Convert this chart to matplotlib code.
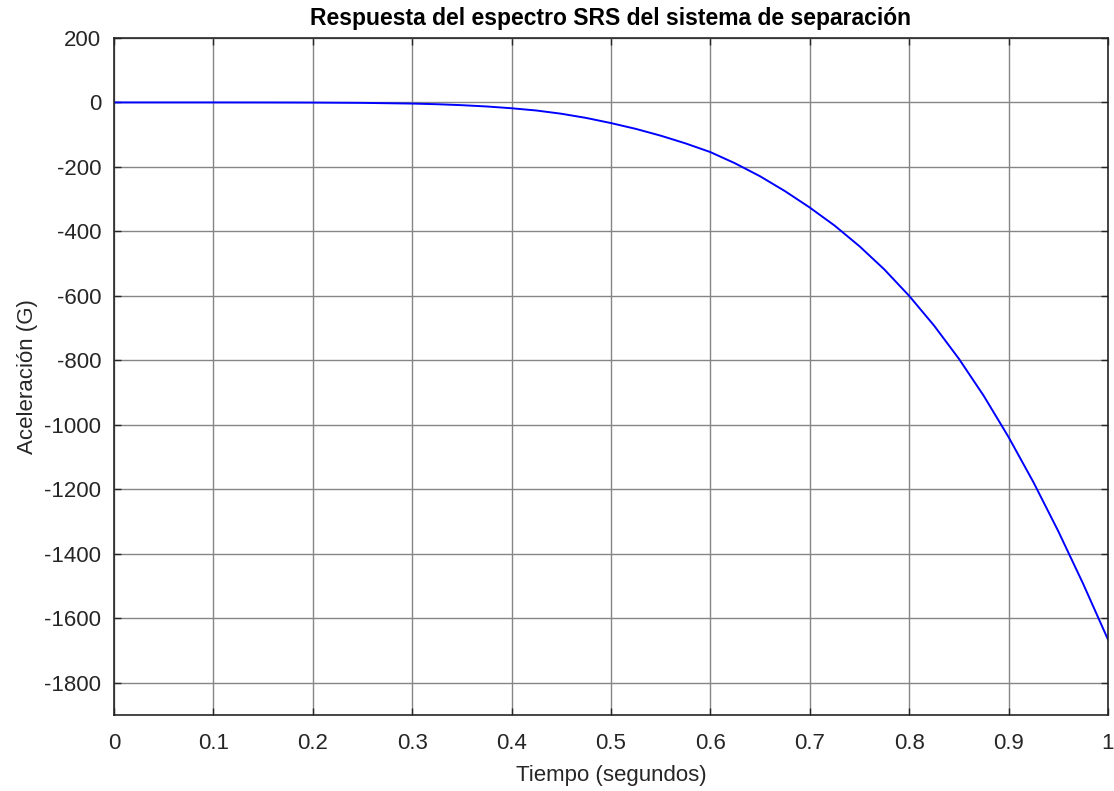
#!/usr/bin/env python3

import matplotlib as mpl
mpl.use("Agg")
import matplotlib.pyplot as plt

# tiempo (s) y aceleracion (G)
tiempo = [0.0, 0.05, 0.1, 0.15, 0.2, 0.25, 0.3, 0.325, 0.35, 0.375,
          0.4, 0.425, 0.45, 0.475, 0.5, 0.525, 0.55, 0.575, 0.6, 0.625,
          0.65, 0.675, 0.7, 0.725, 0.75, 0.775, 0.8, 0.825, 0.85, 0.875,
          0.9, 0.925, 0.95, 0.975, 1.0]
aceleracion = [0.0, 0.0, 0.0, -0.1, -0.4, -1.3, -3.5, -5.5, -8.5, -12.5,
               -18, -25, -35, -48, -64, -82, -103, -127, -154, -189,
               -229, -275, -326, -382, -446, -518, -600, -692, -795, -910,
               -1038, -1178, -1330, -1493, -1666]

x_ticks = [0, 0.1, 0.2, 0.3, 0.4, 0.5, 0.6, 0.7, 0.8, 0.9, 1]
x_labels = ["0", "0.1", "0.2", "0.3", "0.4", "0.5", "0.6", "0.7", "0.8", "0.9", "1"]
y_ticks = list(range(-1800, 201, 200))

plt.rcParams["font.family"] = ["Liberation Sans", "DejaVu Sans"]
plt.rcParams["font.size"] = 16
plt.rcParams["axes.unicode_minus"] = False

fig = plt.figure(figsize=(11.14, 7.91), dpi=100)
ax = fig.add_axes([0.1023, 0.0961, 0.8923, 0.8559])

ax.plot(tiempo, aceleracion, color="#0000ff", lw=1.4)

ax.set_xlim(0, 1)
ax.set_ylim(-1900, 200)
ax.set_xticks(x_ticks)
ax.set_xticklabels(x_labels)
ax.set_yticks(y_ticks)
ax.grid(True, color="#858585", lw=1.0)
ax.set_axisbelow(True)

ax.tick_params(direction="in", top=True, right=True, length=5, width=1,
               colors="#262626", labelsize=16)
ax.tick_params(axis="x", pad=13)
ax.tick_params(axis="y", pad=9)
for s in ax.spines.values():
    s.set_color("#262626")
    s.set_linewidth(1.2)

ax.set_xlabel("Tiempo (segundos)", color="#262626", labelpad=8)
ax.set_ylabel("Aceleración (G)", color="#262626", labelpad=5)
ax.set_title("Respuesta del espectro SRS del sistema de separación",
             fontweight="bold", fontsize=16.5, color="#000000", pad=9)

fig.savefig("out.png", dpi=100)
plt.close(fig)
